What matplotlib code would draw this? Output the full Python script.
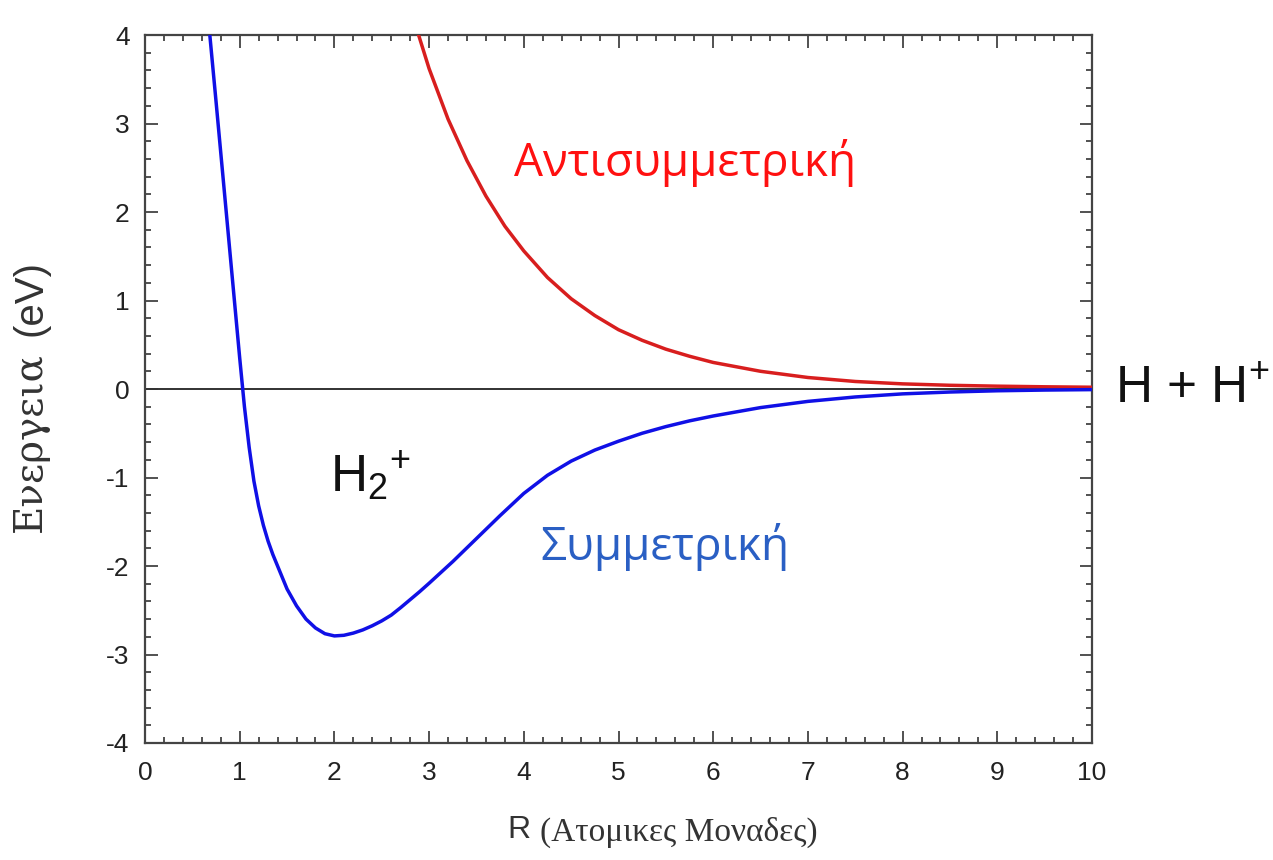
import matplotlib
matplotlib.use("Agg")
import matplotlib.pyplot as plt
from matplotlib.ticker import MultipleLocator

plt.rcParams['mathtext.fontset'] = 'custom'
plt.rcParams['mathtext.rm'] = 'Liberation Sans'
plt.rcParams['mathtext.it'] = 'Liberation Sans'
plt.rcParams['axes.unicode_minus'] = False

# Symmetric (bonding) curve
sym_R = [0.68, 0.75, 0.8, 0.85, 0.9, 0.95, 1.0, 1.05, 1.1, 1.15, 1.2, 1.25, 1.3, 1.35,
         1.4, 1.5, 1.6, 1.7, 1.8, 1.9, 2.0, 2.1, 2.2, 2.3, 2.4, 2.5, 2.6, 2.7, 2.8,
         2.9, 3.0, 3.25, 3.5, 3.75, 4.0, 4.25, 4.5, 4.75, 5.0, 5.25, 5.5, 5.75, 6.0,
         6.5, 7.0, 7.5, 8.0, 8.5, 9.0, 9.5, 10.0]
sym_E = [4.05, 3.25, 2.67, 2.09, 1.51, 0.93, 0.35, -0.2, -0.66, -1.04, -1.32, -1.54,
         -1.72, -1.87, -2.0, -2.26, -2.45, -2.6, -2.7, -2.765, -2.79, -2.783, -2.758,
         -2.722, -2.675, -2.62, -2.555, -2.47, -2.38, -2.29, -2.195, -1.95, -1.69,
         -1.43, -1.18, -0.975, -0.815, -0.69, -0.59, -0.5, -0.425, -0.36, -0.305,
         -0.21, -0.14, -0.09, -0.055, -0.034, -0.02, -0.012, -0.007]

# Antisymmetric (antibonding) curve
anti_R = [2.86, 3.0, 3.2, 3.4, 3.6, 3.8, 4.0, 4.25, 4.5, 4.75, 5.0, 5.25, 5.5, 5.75,
          6.0, 6.5, 7.0, 7.5, 8.0, 8.5, 9.0, 9.5, 10.0]
anti_E = [4.1, 3.62, 3.05, 2.58, 2.18, 1.84, 1.56, 1.26, 1.02, 0.83, 0.67, 0.55, 0.45,
          0.37, 0.30, 0.20, 0.13, 0.085, 0.058, 0.042, 0.032, 0.025, 0.02]

x_ticks = [0, 1, 2, 3, 4, 5, 6, 7, 8, 9, 10]
y_ticks = [-4, -3, -2, -1, 0, 1, 2, 3, 4]

fig = plt.figure(figsize=(12.73, 8.6), dpi=100)
ax = fig.add_axes([145/1273, 1-743/860, (1092-145)/1273, (743-35)/860])

ax.axhline(0, color='#222222', lw=1.3, zorder=1)
ax.plot(anti_R, anti_E, color='#d81e1e', lw=2.5, zorder=3)
ax.plot(sym_R, sym_E, color='#1010e6', lw=2.5, zorder=3)

ax.set_xlim(0, 10)
ax.set_ylim(-4, 4)
ax.set_xticks(x_ticks)
ax.set_yticks(y_ticks)
ax.xaxis.set_minor_locator(MultipleLocator(0.2))
ax.yaxis.set_minor_locator(MultipleLocator(0.2))
ax.tick_params(which='both', direction='in', top=True, right=True,
               color='#333333', width=1.2)
ax.tick_params(which='major', length=9)
ax.tick_params(which='minor', length=4.5)
ax.tick_params(axis='x', which='major', pad=13, labelsize=19, labelcolor='#222222')
ax.tick_params(axis='y', which='major', pad=11, labelsize=19, labelcolor='#222222')
for lab in ax.get_xticklabels() + ax.get_yticklabels():
    lab.set_family('Liberation Sans')
for sp in ax.spines.values():
    sp.set_color('#444444')
    sp.set_linewidth(1.6)

# Annotations
ax.text(3.9, 2.55, 'Αντισυμμετρική', color='#ff1010', fontsize=33,
        family='Open Sans', ha='left', va='center')
ax.text(4.18, -1.78, 'Συμμετρική', color='#2a5fc4', fontsize=33,
        family='Open Sans', ha='left', va='center')
ax.text(1.95, -1.0, r'H$_{2}{}^{+}$', color='#111111', fontsize=37,
        family='Liberation Sans', ha='left', va='center')
ax.text(10.24, 0.0, r'H + H$^{+}$', color='#111111', fontsize=37,
        family='Liberation Sans', ha='left', va='center', clip_on=False)

# Axis labels (mixed fonts)
fig.text(519/1273, 1-830/860, 'R', fontsize=23, family='Liberation Sans',
         ha='center', va='center', color='#333333')
fig.text(540/1273, 1-832/860, '(Ατομικες Μοναδες)', fontsize=24,
         family='Liberation Serif', ha='left', va='center', color='#333333')
fig.text(30/1273, 1-298/860, '(eV)', fontsize=29, family='Liberation Sans',
         rotation=90, ha='center', va='center', color='#333333')
fig.text(30/1273, 1-442/860, 'Ενεργεια', fontsize=28, family='DejaVu Serif',
         rotation=90, ha='center', va='center', color='#333333')

fig.savefig('out.png', dpi=100)
